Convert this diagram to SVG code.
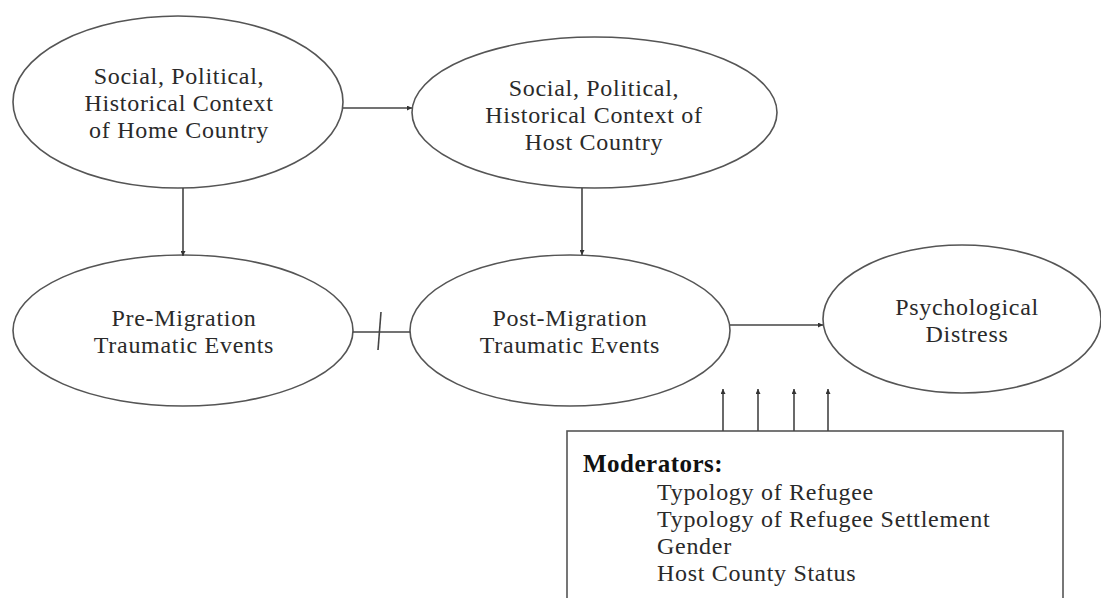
<svg xmlns="http://www.w3.org/2000/svg" width="1101" height="598" viewBox="0 0 1101 598">
<style>
.node{fill:#fff;stroke:#555;stroke-width:1.6}
.lbl{font-family:"Liberation Serif","Times New Roman",serif;font-size:24px;letter-spacing:0.7px;fill:#2a2a2a;text-anchor:middle}
.mod{font-family:"Liberation Serif","Times New Roman",serif;font-size:24px;letter-spacing:0.7px;fill:#2a2a2a}
.modh{font-family:"Liberation Serif","Times New Roman",serif;font-size:25px;letter-spacing:0.5px;font-weight:bold;fill:#111}
.edge{stroke:#444;stroke-width:1.6;fill:none}
</style>
<defs>
<marker id="ah" viewBox="0 0 10 10" refX="10" refY="5" markerWidth="5" markerHeight="5" orient="auto" markerUnits="userSpaceOnUse">
<path d="M0,0 L10,5 L0,10 z" fill="#333"/>
</marker>
</defs>
<rect width="1101" height="598" fill="#fff"/>
<g id="home">
<ellipse class="node" cx="178" cy="102" rx="165" ry="86"/>
<text class="lbl" x="179" y="84">Social, Political,</text>
<text class="lbl" x="179" y="111">Historical Context</text>
<text class="lbl" x="179" y="138">of Home Country</text>
</g>
<g id="host">
<ellipse class="node" cx="594.5" cy="112.5" rx="182.5" ry="75.5"/>
<text class="lbl" x="594" y="96">Social, Political,</text>
<text class="lbl" x="594" y="123">Historical Context of</text>
<text class="lbl" x="594" y="150">Host Country</text>
</g>
<g id="pre">
<ellipse class="node" cx="183" cy="330.5" rx="170" ry="75.5"/>
<text class="lbl" x="184" y="326">Pre-Migration</text>
<text class="lbl" x="184" y="353">Traumatic Events</text>
</g>
<g id="post">
<ellipse class="node" cx="570" cy="330.5" rx="160" ry="75.5"/>
<text class="lbl" x="570" y="326">Post-Migration</text>
<text class="lbl" x="570" y="353">Traumatic Events</text>
</g>
<g id="distress">
<ellipse class="node" cx="962" cy="319" rx="139" ry="74"/>
<text class="lbl" x="967" y="315">Psychological</text>
<text class="lbl" x="967" y="342">Distress</text>
</g>
<g id="moderators">
<rect class="node" x="567" y="431" width="496" height="190"/>
<text class="modh" x="583" y="472">Moderators:</text>
<text class="mod" x="657" y="500">Typology of Refugee</text>
<text class="mod" x="657" y="527">Typology of Refugee Settlement</text>
<text class="mod" x="657" y="554">Gender</text>
<text class="mod" x="657" y="581">Host County Status</text>
</g>
<g id="connectors">
<line class="edge" x1="343" y1="108" x2="412" y2="108" marker-end="url(#ah)"/>
<line class="edge" x1="183" y1="188" x2="183" y2="256" marker-end="url(#ah)"/>
<line class="edge" x1="582" y1="188" x2="582" y2="255" marker-end="url(#ah)"/>
<line class="edge" x1="353" y1="332" x2="410" y2="332"/>
<line class="edge" x1="381" y1="312" x2="378" y2="350"/>
<line class="edge" x1="730" y1="325" x2="823" y2="325" marker-end="url(#ah)"/>
<line class="edge" x1="723" y1="431" x2="723" y2="389" marker-end="url(#ah)"/>
<line class="edge" x1="758" y1="431" x2="758" y2="389" marker-end="url(#ah)"/>
<line class="edge" x1="794" y1="431" x2="794" y2="389" marker-end="url(#ah)"/>
<line class="edge" x1="828" y1="431" x2="828" y2="389" marker-end="url(#ah)"/>
</g>
</svg>
